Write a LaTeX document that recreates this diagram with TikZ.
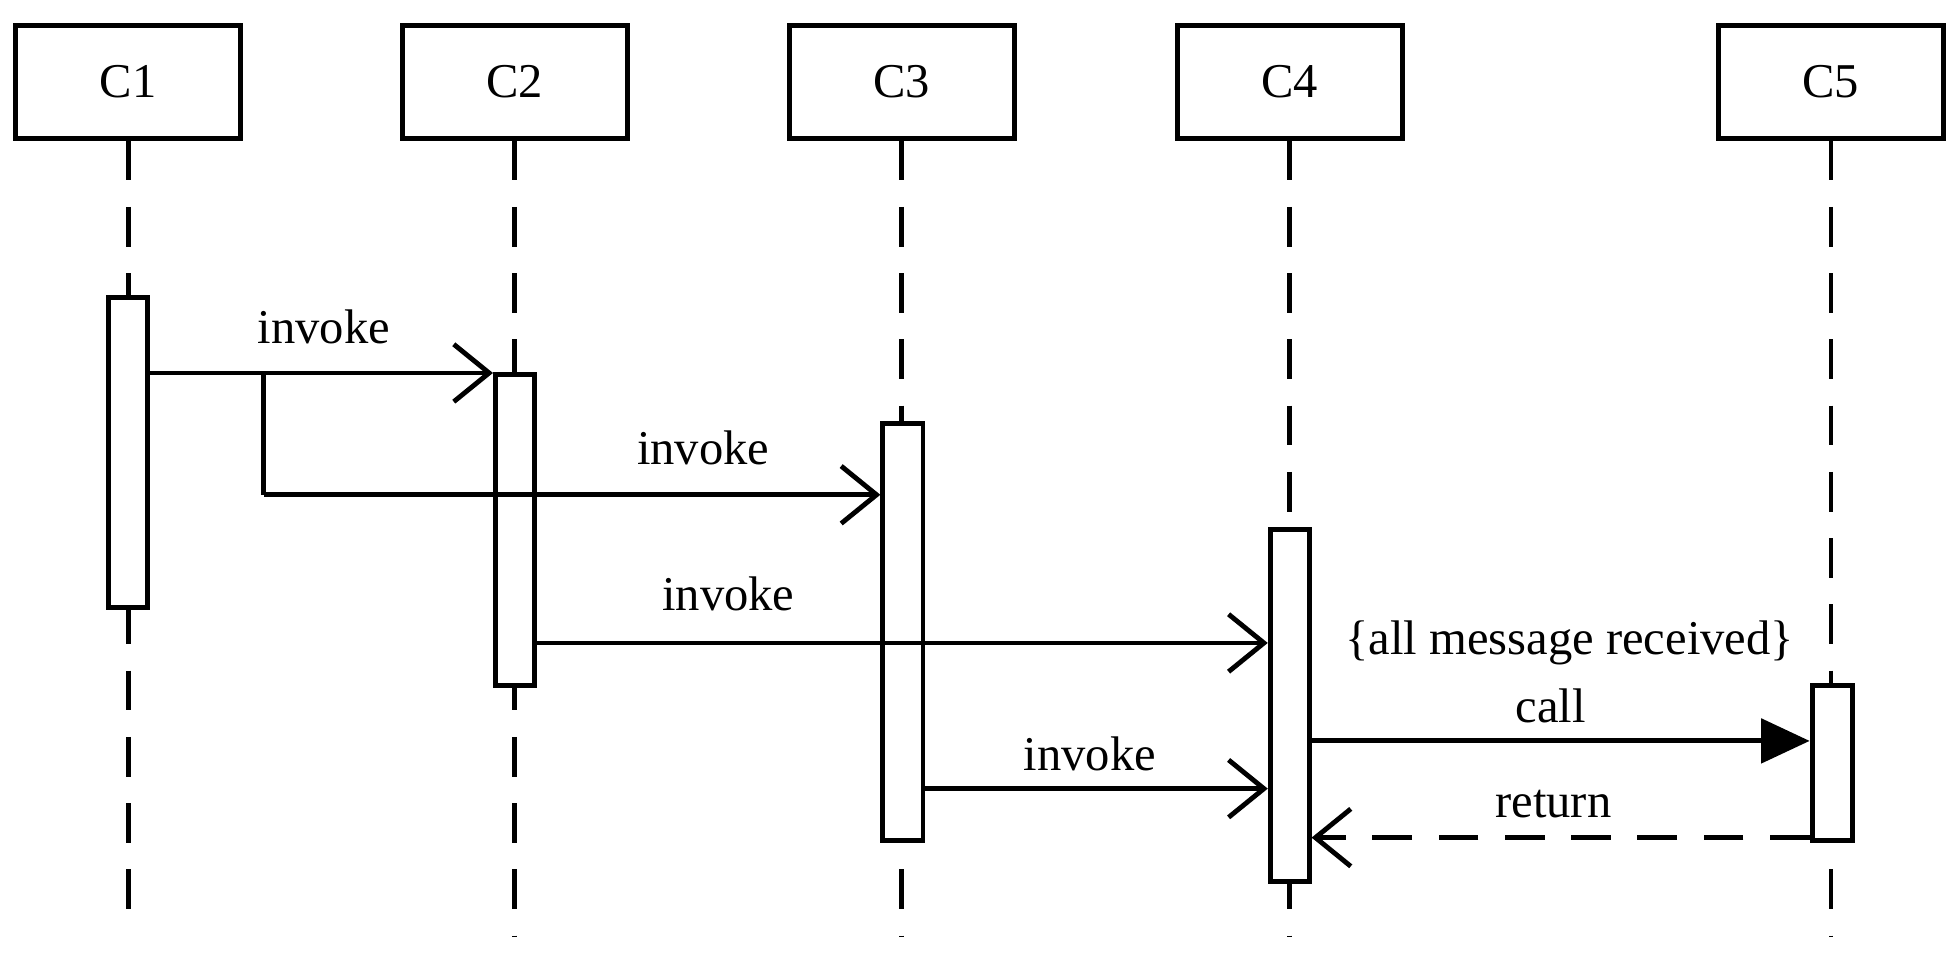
\documentclass[tikz,border=0pt]{standalone}
\usepackage{fontspec}
\setmainfont{Liberation Serif}
\usetikzlibrary{arrows.meta}
\begin{document}
\begin{tikzpicture}[x=0.01cm,y=-0.01cm,line width=1.1pt,
  obj/.style={draw,minimum width=1.79cm,minimum height=0.9cm,inner sep=0,font=\fontsize{11}{13}\selectfont},
  act/.style={draw,fill=white},
  life/.style={dash pattern=on 9pt off 6pt},
  msg/.style={-{Straight Barb[length=8pt,width=13pt,line width=1.1pt]}},
  lbl/.style={font=\fontsize{11}{13}\selectfont,inner sep=1pt}]
\useasboundingbox (0,0) rectangle (1560,772);
\foreach \n/\x/\e in {1/102/738,2/410/745,3/718/745,4/1027/745,5/1458/745}{
  \node[obj] (C\n) at (\x,65) {C\n};
  \coordinate (E\n) at (\x,\e);
  \draw[life] (C\n.south) -- (E\n);
}
\node[act,minimum width=0.31cm,minimum height=2.47cm,inner sep=0,anchor=north] (A1) at (102,235) {};
\node[act,minimum width=0.31cm,minimum height=2.48cm,inner sep=0,anchor=north] (A2) at (410,296) {};
\node[act,minimum width=0.32cm,minimum height=3.32cm,inner sep=0,anchor=north] (A3) at (719,335) {};
\node[act,minimum width=0.31cm,minimum height=2.80cm,inner sep=0,anchor=north] (A4) at (1027,420) {};
\node[act,minimum width=0.32cm,minimum height=1.23cm,inner sep=0,anchor=north] (A5) at (1459,544) {};
\coordinate (s1) at (A1.east |- 0,297);
\coordinate (b1) at (210,297);
\coordinate (b2) at (210,394);
\draw[msg] (s1) -- (A2.west |- s1);
\draw (b1) -- (b2);
\draw[msg] (b2) -- (A3.west |- b2);
\draw[msg] (A2.east |- 0,512) -- (A4.west |- 0,512);
\draw[msg] (A3.east |- 0,628) -- (A4.west |- 0,628);
\draw[-{Triangle[length=11pt,width=10pt]}] (A4.east |- 0,590) -- (A5.west |- 0,590);
\draw[msg,dash pattern=on 9pt off 6pt] (A5.west |- 0,667) -- (A4.east |- 0,667);
\node[lbl] (l1) at (258,260) {invoke};
\node[lbl] (l2) at (560,357) {invoke};
\node[lbl] (l3) at (580,473) {invoke};
\node[lbl] (l4) at (868,600) {invoke};
\node[lbl] (l5) at (1235,562) {call};
\node[lbl] (l6) at (1250,512) {\{all message received\}};
\node[lbl] (l7) at (1237,640) {return};
\end{tikzpicture}
\end{document}
